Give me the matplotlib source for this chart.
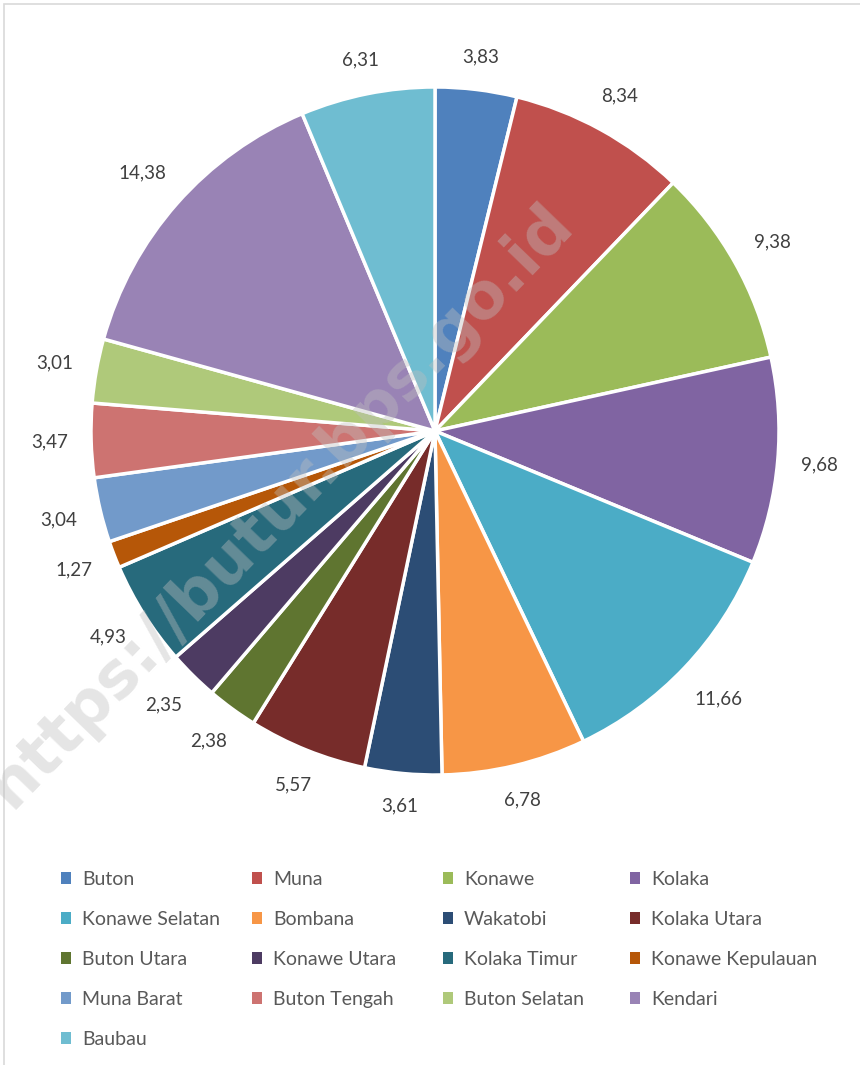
import numpy as np
import matplotlib as mpl
mpl.use('Agg')
import matplotlib.pyplot as plt

# Data
regions = ["Buton", "Muna", "Konawe", "Kolaka", "Konawe Selatan", "Bombana",
           "Wakatobi", "Kolaka Utara", "Buton Utara", "Konawe Utara",
           "Kolaka Timur", "Konawe Kepulauan", "Muna Barat", "Buton Tengah",
           "Buton Selatan", "Kendari", "Baubau"]
values = [3.83, 8.34, 9.38, 9.68, 11.66, 6.78, 3.61, 5.57, 2.38, 2.35,
          4.93, 1.27, 3.04, 3.47, 3.01, 14.38, 6.31]
colors = ["#4F81BD", "#C0504D", "#9BBB59", "#8064A2", "#4BACC6", "#F79646",
          "#2C4D75", "#772C2A", "#5F7530", "#4D3B62", "#276A7C", "#B65708",
          "#729ACA", "#CD7371", "#AFC97A", "#9983B5", "#6FBDD1"]
labels = [f"{v:.2f}".replace(".", ",") for v in values]

plt.rcParams['font.family'] = ['Lato', 'DejaVu Sans']

W, H = 860, 1065
fig = plt.figure(figsize=(W / 100, H / 100), dpi=100, facecolor='w')

# pie placement (pixels)
cx, cy, r = 435, 431, 344
ax = fig.add_axes([(cx - r) / W, (H - cy - r) / H, 2 * r / W, 2 * r / H])
wedges, texts = ax.pie(values, labels=labels, colors=colors, startangle=90,
                       counterclock=False, labeldistance=1.12,
                       wedgeprops=dict(edgecolor='white', linewidth=2.5),
                       textprops=dict(fontsize=13.5, color='#404040'))
ax.set_xlim(-1, 1)
ax.set_ylim(-1, 1)
ax.set_aspect('equal')

# "outside end" labels: keep a fixed gap between the label box and the rim
renderer = fig.canvas.get_renderer()
gap = 0.065
for w, t in zip(wedges, texts):
    mid = np.deg2rad((w.theta1 + w.theta2) / 2)
    bb = t.get_window_extent(renderer)
    hw = bb.width / 2 / r
    hh = bb.height / 2 / r
    d = 1 + gap + abs(np.cos(mid)) * hw + abs(np.sin(mid)) * hh
    t.set_position((d * np.cos(mid), d * np.sin(mid)))
    t.set_ha('center')
    t.set_va('center')

# legend: four equal-width columns, row-major order
ncol = 4
col_x = [53, 244, 435, 622]
for c in range(ncol):
    idx = list(range(c, len(regions), ncol))
    leg = fig.legend([wedges[i] for i in idx], [regions[i] for i in idx],
                     loc='upper left', bbox_to_anchor=(col_x[c] / W, 1 - 863 / H),
                     frameon=False, fontsize=14, labelcolor='#595959',
                     handlelength=0.55, handleheight=0.55, handletextpad=0.55,
                     labelspacing=1.18, borderaxespad=0)
    for p in leg.get_patches():
        p.set_edgecolor('none')

# watermark
fig.text(280 / W, 1 - 505 / H, "https://butur.bps.go.id", fontsize=46,
         fontweight='bold', color='#bfbfbf', alpha=0.4, rotation=46,
         ha='center', va='center', family='DejaVu Sans')

# chart frame
fig.add_artist(plt.Rectangle((4 / W, -0.01), 1.02, 1 - 4 / H + 0.01,
                             transform=fig.transFigure, fill=False,
                             edgecolor='#d9d9d9', linewidth=1.2))

plt.savefig("out.png", dpi=100, facecolor='w')
